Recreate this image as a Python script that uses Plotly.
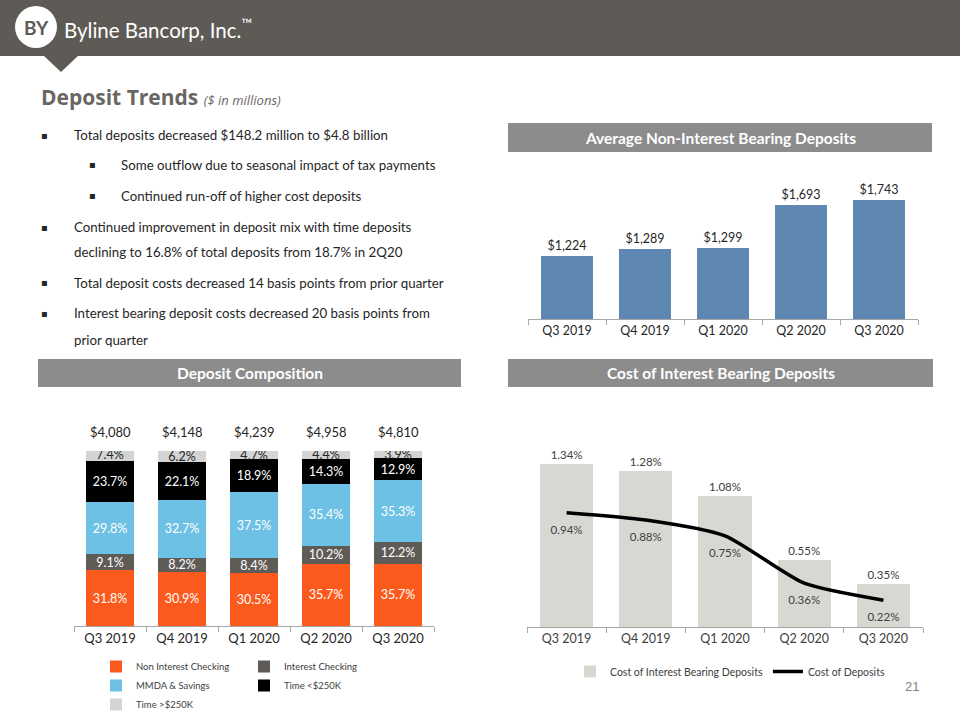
import plotly.graph_objects as go

# ---------------- data ----------------
quarters = ["Q3 2019", "Q4 2019", "Q1 2020", "Q2 2020", "Q3 2020"]

avg_nib = [1224, 1289, 1299, 1693, 1743]

comp_names = ["Non Interest Checking", "Interest Checking", "MMDA & Savings", "Time <$250K", "Time >$250K"]
non_int_checking = [31.8, 30.9, 30.5, 35.7, 35.7]
int_checking = [9.1, 8.2, 8.4, 10.2, 12.2]
mmda_savings = [29.8, 32.7, 37.5, 35.4, 35.3]
time_lt_250 = [23.7, 22.1, 18.9, 14.3, 12.9]
time_gt_250 = [7.4, 6.2, 4.7, 4.4, 3.9]
total_deposits = ["$4,080", "$4,148", "$4,239", "$4,958", "$4,810"]

cost_ib_deposits = [1.34, 1.28, 1.08, 0.55, 0.35]
cost_deposits = [0.94, 0.88, 0.75, 0.36, 0.22]

# (indent level, has bullet, text)
bullet_lines = [
    (0, True, "Total deposits decreased $148.2 million to $4.8 billion"),
    (1, True, "Some outflow due to seasonal impact of tax payments"),
    (1, True, "Continued run-off of higher cost deposits"),
    (0, True, "Continued improvement in deposit mix with time deposits"),
    (0, False, "declining to 16.8% of total deposits from 18.7% in 2Q20"),
    (0, True, "Total deposit costs decreased 14 basis points from prior quarter"),
    (0, True, "Interest bearing deposit costs decreased 20 basis points from"),
    (0, False, "prior quarter"),
]

# ---------------- helpers ----------------
W, H = 960, 720
def px(x):
    return x / W
def py(y):
    return 1 - y / H

FONT = "Lato"
TXT = "#262626"
HEADER = "#5E5A55"
PANEL = "#8C8C8C"

comp_colors = ["#FC5A1C", "#5F5B56", "#6DC1E5", "#000000", "#D4D4D4"]
comp_text = ["white", "white", "white", "white", TXT]
comp_vals = [non_int_checking, int_checking, mmda_savings, time_lt_250, time_gt_250]
comp_legend = ["legend", "legend2", "legend", "legend2", "legend"]

fig = go.Figure()

# chart 1: Average Non-Interest Bearing Deposits
fig.add_trace(go.Bar(
    x=quarters, y=avg_nib, xaxis="x", yaxis="y",
    marker=dict(color="#5E88B1", line=dict(width=0)),
    texttemplate="$%{y:,}", textposition="outside",
    textfont=dict(family=FONT, size=12.5, color=TXT),
    cliponaxis=False, showlegend=False, hoverinfo="skip",
))

# chart 2: Deposit Composition
for name, vals, col, tcol, lg in zip(comp_names, comp_vals, comp_colors, comp_text, comp_legend):
    fig.add_trace(go.Bar(
        x=quarters, y=vals, name=name, xaxis="x2", yaxis="y2",
        marker=dict(color=col, line=dict(width=0)),
        texttemplate="%{y:.1f}%", textposition="inside", insidetextanchor="middle",
        textangle=0, constraintext="none",
        textfont=dict(family=FONT, size=12.5, color=tcol),
        legend=lg, hoverinfo="skip",
    ))

# chart 3: Cost of Interest Bearing Deposits
fig.add_trace(go.Bar(
    x=quarters, y=cost_ib_deposits, name="Cost of Interest Bearing Deposits",
    xaxis="x3", yaxis="y3",
    marker=dict(color="#D8D8D3", line=dict(width=0)),
    texttemplate="%{y:.2f}%", textposition="outside",
    textfont=dict(family=FONT, size=11.5, color="#404040"),
    cliponaxis=False, legend="legend3", hoverinfo="skip",
))
fig.add_trace(go.Scatter(
    x=quarters, y=cost_deposits, name="Cost of Deposits",
    xaxis="x3", yaxis="y3", mode="lines+markers+text",
    line=dict(color="black", width=3.5, shape="spline", smoothing=0.6),
    marker=dict(size=18, color="rgba(0,0,0,0)"),
    text=[f"{v:.2f}%" for v in cost_deposits], textposition="bottom center",
    textfont=dict(family=FONT, size=11.5, color="#404040"),
    cliponaxis=False, legend="legend3", hoverinfo="skip",
))

xcommon = dict(type="category", showgrid=False, showline=True, linecolor="#A6A6A6",
               linewidth=1, ticks="outside", tickson="boundaries", ticklen=5,
               tickcolor="#A6A6A6", tickfont=dict(family=FONT, size=12.5, color=TXT),
               fixedrange=True)
ycommon = dict(visible=False, showgrid=False, zeroline=False, fixedrange=True)

annotations = []
shapes = []

def ann(text, x, y, size, color, family=FONT, xanchor="left", yanchor="middle", **kw):
    annotations.append(dict(text=text, x=x, y=y, xref="paper", yref="paper",
                            xanchor=xanchor, yanchor=yanchor, showarrow=False, align="left",
                            font=dict(family=family, size=size, color=color), **kw))

# header band and notch
shapes.append(dict(type="rect", xref="paper", yref="paper", x0=0, x1=1, y0=py(56), y1=1,
                   fillcolor=HEADER, line=dict(width=0), layer="below"))
shapes.append(dict(type="path", xref="paper", yref="paper",
                   path=f"M {px(43)},{py(55)} L {px(79)},{py(55)} L {px(61)},{py(72)} Z",
                   fillcolor=HEADER, line=dict(width=0), layer="below"))
shapes.append(dict(type="circle", xref="paper", yref="paper",
                   x0=px(15), x1=px(57), y0=py(48), y1=py(6),
                   fillcolor="white", line=dict(width=0)))
ann("<b>BY</b>", px(36), py(28), 19, HEADER, xanchor="center")
ann("Byline Bancorp, Inc.<sup>™</sup>", px(62), py(29), 20.5, "white")

# title
ann("<b>Deposit Trends</b> <i><span style='font-size:13px'>($ in millions)</span></i>",
    px(39), py(97), 21, "#6A6763", family="Open Sans")

# bullets
line_y = [135, 165, 196, 227, 252, 283, 313, 340]
for (lvl, has_b, txt), yy in zip(bullet_lines, line_y):
    bx = 44 if lvl == 0 else 92
    tx = 72 if lvl == 0 else 119
    if has_b:
        ann("▪", px(bx), py(yy), 10, TXT, family="DejaVu Sans", xanchor="center")
    ann(txt, px(tx), py(yy), 13.3, TXT)

# panel headers
for (x0, x1, y0, y1, title) in [(508, 932, 123, 152, "Average Non-Interest Bearing Deposits"),
                                (38, 461, 359, 387, "Deposit Composition"),
                                (508, 933, 359, 387, "Cost of Interest Bearing Deposits")]:
    shapes.append(dict(type="rect", xref="paper", yref="paper", x0=px(x0), x1=px(x1),
                       y0=py(y1), y1=py(y0), fillcolor=PANEL, line=dict(width=0), layer="below"))
    ann(f"<b>{title}</b>", px((x0 + x1) / 2), py((y0 + y1) / 2), 15.5, "white", xanchor="center")

# totals above stacked bars
for q, t in zip(quarters, total_deposits):
    annotations.append(dict(text=t, x=q, y=100, xref="x2", yref="y2", xanchor="center",
                            yanchor="bottom", yshift=9, showarrow=False,
                            font=dict(family=FONT, size=13, color=TXT)))

# page number
ann("21", px(912), py(686), 13, "#7F7F7F", family="Liberation Sans", xanchor="center")

legend_font = dict(family=FONT, size=9.5, color="#404040")

fig.update_layout(
    width=W, height=H, margin=dict(l=0, r=0, t=0, b=0),
    paper_bgcolor="white", plot_bgcolor="rgba(0,0,0,0)",
    barmode="stack",
    xaxis=dict(xcommon, domain=[px(528), px(918)], anchor="y"),
    yaxis=dict(ycommon, domain=[py(319), py(171)], range=[640, 2012], anchor="x"),
    xaxis2=dict(xcommon, domain=[px(74), px(434)], anchor="y2",
                tickfont=dict(family=FONT, size=13, color=TXT)),
    yaxis2=dict(ycommon, domain=[py(626), py(451)], range=[0, 100], anchor="x2"),
    xaxis3=dict(xcommon, domain=[px(527), px(923)], anchor="y3",
                tickfont=dict(family=FONT, size=12.5, color="#404040")),
    yaxis3=dict(ycommon, domain=[py(627), py(444.6)], range=[0, 1.5], anchor="x3"),
    bargap=0.33,
    legend=dict(x=px(96), y=py(652), xanchor="left", yanchor="top", orientation="v",
                font=legend_font, itemwidth=30, bgcolor="rgba(0,0,0,0)", tracegroupgap=0,
                traceorder="normal"),
    legend2=dict(x=px(244), y=py(652), xanchor="left", yanchor="top", orientation="v",
                 font=legend_font, itemwidth=30, bgcolor="rgba(0,0,0,0)", tracegroupgap=0,
                 traceorder="normal"),
    legend3=dict(x=px(570), y=py(657), xanchor="left", yanchor="top", orientation="h",
                 font=dict(family=FONT, size=10.5, color="#404040"), itemwidth=30,
                 bgcolor="rgba(0,0,0,0)", traceorder="normal"),
    annotations=annotations, shapes=shapes,
)

fig.write_html("out.html", config={"displayModeBar": False},
               post_script="document.body.style.margin='0px';")
